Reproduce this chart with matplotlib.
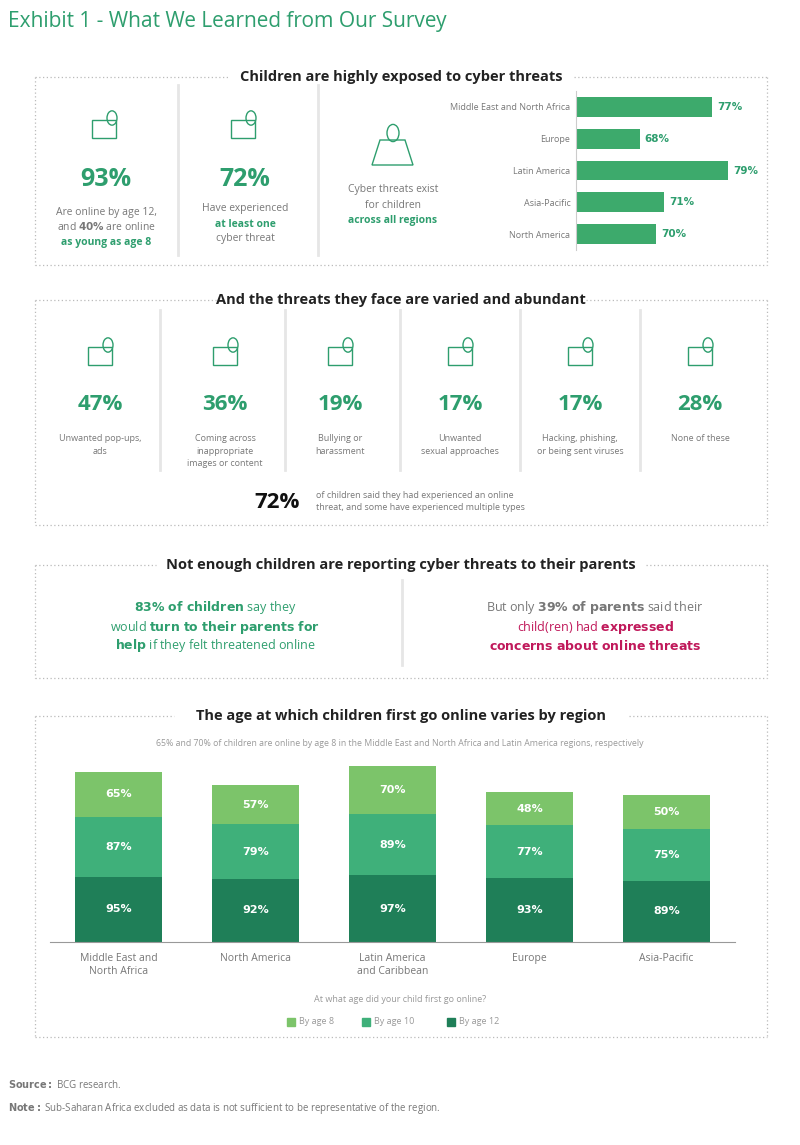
import matplotlib
matplotlib.use("Agg")
import matplotlib.pyplot as plt
from matplotlib.patches import Rectangle, Circle, Polygon

W, H = 800, 1145
GREEN = "#2e9e6e"
BAR = "#3daa6c"
GRAY = "#777777"
PINK = "#c0185a"

region_top = ["Middle East and North Africa", "Europe", "Latin America", "Asia-Pacific", "North America"]
threat_pct = [77, 68, 79, 71, 70]

threat_vals = ["47%", "36%", "19%", "17%", "17%", "28%"]
threat_labels = ["Unwanted pop-ups,\nads", "Coming across\ninappropriate\nimages or content",
                 "Bullying or\nharassment", "Unwanted\nsexual approaches",
                 "Hacking, phishing,\nor being sent viruses", "None of these"]

regions = ["Middle East and\nNorth Africa", "North America", "Latin America\nand Caribbean", "Europe", "Asia-Pacific"]
age12 = [95, 92, 97, 93, 89]
age10 = [87, 79, 89, 77, 75]
age8 = [65, 57, 70, 48, 50]
series_names = ["By age 8", "By age 10", "By age 12"]
C8, C10, C12 = "#7cc46a", "#3fb07a", "#1f7f58"

fig = plt.figure(figsize=(8, 11.45), dpi=100)
fig.patch.set_facecolor("white")

def fx(x): return x / W
def fy(y): return 1 - y / H
def txt(x, y, s, **kw):
    kw.setdefault("ha", "center"); kw.setdefault("va", "center")
    kw.setdefault("family", "Open Sans")
    fig.text(fx(x), fy(y), s, **kw)
def box(x0, y0, x1, y1, title, tw):
    xm = (x0 + x1) / 2
    for seg in [((x0, xm - tw / 2), (y0, y0)), ((xm + tw / 2, x1), (y0, y0)),
                ((x0, x0), (y0, y1)), ((x1, x1), (y0, y1)), ((x0, x1), (y1, y1))]:
        fig.add_artist(plt.Line2D([fx(seg[0][0]), fx(seg[0][1])], [fy(seg[1][0]), fy(seg[1][1])],
                                  ls=(0, (1, 2)), color="#bbbbbb", lw=0.9))
    txt(xm, y0, title, fontsize=10.5, weight="bold", color="#222222")
def vline(x, y0, y1):
    fig.add_artist(plt.Line2D([fx(x), fx(x)], [fy(y0), fy(y1)], color="#e6e6e6", lw=2))
def icon(x, y):
    fig.add_artist(Rectangle((fx(x - 12), fy(y + 10)), 24 / W, 18 / H, fill=False, ec=GREEN, lw=1.0))
    fig.add_artist(Circle((fx(x + 8), fy(y - 10)), 5 / W, fill=False, ec=GREEN, lw=1.0))

txt(8, 22, "Exhibit 1 - What We Learned from Our Survey", ha="left", fontsize=15, color=GREEN)

# Box 1
box(35, 77, 767, 265, "Children are highly exposed to cyber threats", 345)
vline(178, 85, 255); vline(318, 85, 255)
icon(104, 128); icon(243, 128)
fig.add_artist(Polygon([(fx(372), fy(165)), (fx(380), fy(140)), (fx(405), fy(140)), (fx(413), fy(165))],
                       fill=False, ec=GREEN, lw=1.0))
fig.add_artist(Circle((fx(393), fy(133)), 6 / W, fill=False, ec=GREEN, lw=1.0))
txt(106, 180, "93%", fontsize=18, weight="bold", color=GREEN)
txt(106, 212, "Are online by age 12,", fontsize=7.5, color=GRAY)
txt(106, 227, "and $\\bf{40\\%}$ are online", fontsize=7.5, color=GRAY)
txt(106, 242, "as young as age 8", fontsize=7.5, color=GREEN, weight="bold")
txt(245, 180, "72%", fontsize=18, weight="bold", color=GREEN)
txt(245, 209, "Have experienced", fontsize=7.5, color=GRAY)
txt(245, 224, "at least one", fontsize=7.5, color=GREEN, weight="bold")
txt(245, 239, "cyber threat", fontsize=7.5, color=GRAY)
txt(393, 190, "Cyber threats exist", fontsize=7.5, color=GRAY)
txt(393, 205, "for children", fontsize=7.5, color=GRAY)
txt(393, 220, "across all regions", fontsize=7.5, color=GREEN, weight="bold")

ax1 = fig.add_axes([fx(576), fy(250), 169 / W, 159 / H])
ys = list(range(len(region_top)))
ax1.barh(ys, threat_pct, left=0, height=0.62, color=BAR)
ax1.set_xlim(60, 60 + 169 / 8)
ax1.set_ylim(len(region_top) - 0.5, -0.5)
ax1.set_yticks(ys, region_top, fontsize=6.5, color=GRAY, family="Open Sans")
ax1.tick_params(length=0, pad=4)
ax1.set_xticks([])
for s in ["top", "right", "bottom"]:
    ax1.spines[s].set_visible(False)
ax1.spines["left"].set_color("#cccccc")
for y, v in zip(ys, threat_pct):
    ax1.text(v + 0.6, y, f"{v}%", va="center", fontsize=7.5, color=GREEN, weight="bold")

# Box 2
box(35, 300, 767, 525, "And the threats they face are varied and abundant", 370)
centers = [100, 225, 340, 460, 580, 700]
for x in [160, 285, 400, 520, 640]:
    vline(x, 310, 470)
for c, v, l in zip(centers, threat_vals, threat_labels):
    icon(c, 355)
    txt(c, 405, v, fontsize=16, weight="bold", color=GREEN)
    txt(c, 434, l, fontsize=6.5, color=GRAY, va="top", linespacing=1.5)
txt(277, 502, "72%", fontsize=16, weight="bold", color="#111111")
txt(316, 495, "of children said they had experienced an online", ha="left", fontsize=6.5, color=GRAY)
txt(316, 508, "threat, and some have experienced multiple types", ha="left", fontsize=6.5, color=GRAY)

# Box 3
box(35, 565, 767, 678, "Not enough children are reporting cyber threats to their parents", 490)
vline(402, 580, 665)
txt(215, 608, "$\\bf{83\\%\\ of\\ children}$ say they", fontsize=9, color=GREEN)
txt(215, 627, "would $\\bf{turn\\ to\\ their\\ parents\\ for}$", fontsize=9, color=GREEN)
txt(215, 646, "$\\bf{help}$ if they felt threatened online", fontsize=9, color=GREEN)
txt(595, 608, "But only $\\bf{39\\%\\ of\\ parents}$ said their", fontsize=9, color=GRAY)
txt(595, 627, "child(ren) had $\\bf{expressed}$", fontsize=9, color=PINK)
txt(595, 646, "$\\bf{concerns\\ about\\ online\\ threats}$", fontsize=9, color=PINK)

# Box 4
box(35, 716, 767, 1037, "The age at which children first go online varies by region", 455)
txt(400, 744, "65% and 70% of children are online by age 8 in the Middle East and North Africa and Latin America regions, respectively",
    fontsize=6.3, color="#999999")
ax2 = fig.add_axes([fx(50), fy(942), 685 / W, 182 / H])
xs = list(range(len(regions)))
b12 = ax2.bar(xs, age12, width=0.63, color=C12)
b10 = ax2.bar(xs, age10, bottom=age12, width=0.63, color=C10)
bot8 = [a + b for a, b in zip(age12, age10)]
b8 = ax2.bar(xs, age8, bottom=bot8, width=0.63, color=C8)
for i in xs:
    ax2.text(i, age12[i] / 2, f"{age12[i]}%", ha="center", va="center", color="white", fontsize=8, weight="bold")
    ax2.text(i, age12[i] + age10[i] / 2, f"{age10[i]}%", ha="center", va="center", color="white", fontsize=8, weight="bold")
    ax2.text(i, bot8[i] + age8[i] / 2, f"{age8[i]}%", ha="center", va="center", color="white", fontsize=8, weight="bold")
ax2.set_xlim(-0.5, len(regions) - 0.5)
ax2.set_ylim(0, 182 / 0.688)
ax2.set_yticks([])
ax2.set_xticks(xs, regions, fontsize=7.5, color=GRAY, family="Open Sans")
ax2.tick_params(length=0, pad=8)
for s in ["top", "right", "left"]:
    ax2.spines[s].set_visible(False)
ax2.spines["bottom"].set_color("#999999")
txt(400, 1000, "At what age did your child first go online?", fontsize=6.5, color="#999999")
for x, n, c in zip([295, 370, 455], series_names, [C8, C10, C12]):
    fig.add_artist(Rectangle((fx(x - 8), fy(1026)), 8 / W, 8 / H, color=c))
    txt(x + 4, 1022, n, ha="left", fontsize=6.5, color="#999999")

txt(8, 1085, "$\\bf{Source:}$ BCG research.", ha="left", fontsize=7, color=GRAY)
txt(8, 1108, "$\\bf{Note:}$ Sub-Saharan Africa excluded as data is not sufficient to be representative of the region.",
    ha="left", fontsize=7, color=GRAY)

fig.savefig("out.png", dpi=100, facecolor="white")
